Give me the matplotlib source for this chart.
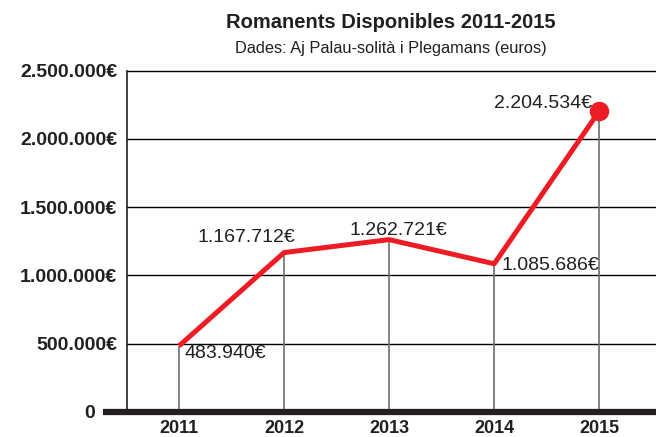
from matplotlib import pyplot as plt

plt.rcParams['font.family'] = ['Liberation Sans', 'DejaVu Sans']

# Data
years = [2011, 2012, 2013, 2014, 2015]
romanents = [483940, 1167712, 1262721, 1085686, 2204534]
value_labels = ['483.940€', '1.167.712€', '1.262.721€', '1.085.686€',
                '2.204.534€']
y_ticks = [0, 500000, 1000000, 1500000, 2000000, 2500000]
y_tick_labels = ['0', '500.000€', '1.000.000€', '1.500.000€', '2.000.000€',
                 '2.500.000€']

# label placement (offset in pixels, alignment)
label_offsets = [(5, -8, 'left'), (11, 15, 'right'), (9, 9, 'center'),
                 (7, -2, 'left'), (-7, 8, 'right')]

dark = '#231f20'
red = '#ed1c24'

fig = plt.figure(figsize=(6.56, 4.37), dpi=100)
ax = fig.add_axes([127 / 656, 1 - 412 / 437, 1 - 127 / 656,
                   (412 - 70.7) / 437])

ax.set_xlim(2010.505, 2015.54)
ax.set_ylim(0, 2500000)

# horizontal grid lines
for yt in y_ticks[1:]:
    ax.axhline(yt, color='#000000', lw=1.0, clip_on=False, zorder=1)
# drop lines
ax.vlines(years, 0, romanents, color='#6d6e70', lw=1.2, zorder=1)
# thick base line
ax.axhline(0, xmin=-0.0454, xmax=1, color=dark, lw=4.5, clip_on=False,
           zorder=4, solid_capstyle='butt')

ax.plot(years, romanents, color=red, lw=3.6, zorder=3,
        solid_capstyle='butt')
ax.plot(years[-1], romanents[-1], 'o', color=red, markersize=13, zorder=5)

for x, y, txt, (dx, dy, ha) in zip(years, romanents, value_labels,
                                   label_offsets):
    ax.annotate(txt, (x, y), xytext=(dx, dy), textcoords='offset pixels',
                ha=ha, va='center', fontsize=14, color=dark)

for side in ['top', 'right', 'bottom']:
    ax.spines[side].set_visible(False)
ax.spines['left'].set_color(dark)
ax.spines['left'].set_linewidth(1.2)

ax.set_yticks(y_ticks)
ax.set_yticklabels(y_tick_labels, fontsize=14, fontweight='bold',
                   color=dark)
ax.set_xticks(years)
ax.set_xticklabels([str(y) for y in years], fontsize=13, fontweight='bold',
                   color=dark)
ax.tick_params(axis='y', length=0, pad=7)
ax.tick_params(axis='x', length=0, pad=6)
ax.yaxis.get_major_ticks()[0].set_pad(23)

fig.text(391 / 656, 1 - 22 / 437, 'Romanents Disponibles 2011-2015',
         ha='center', va='center', fontsize=14.5, fontweight='bold',
         color=dark)
fig.text(391 / 656, 1 - 48 / 437,
         'Dades: Aj Palau-solità i Plegamans (euros)',
         ha='center', va='center', fontsize=11.8, color=dark)

fig.savefig('out.png', dpi=100)
